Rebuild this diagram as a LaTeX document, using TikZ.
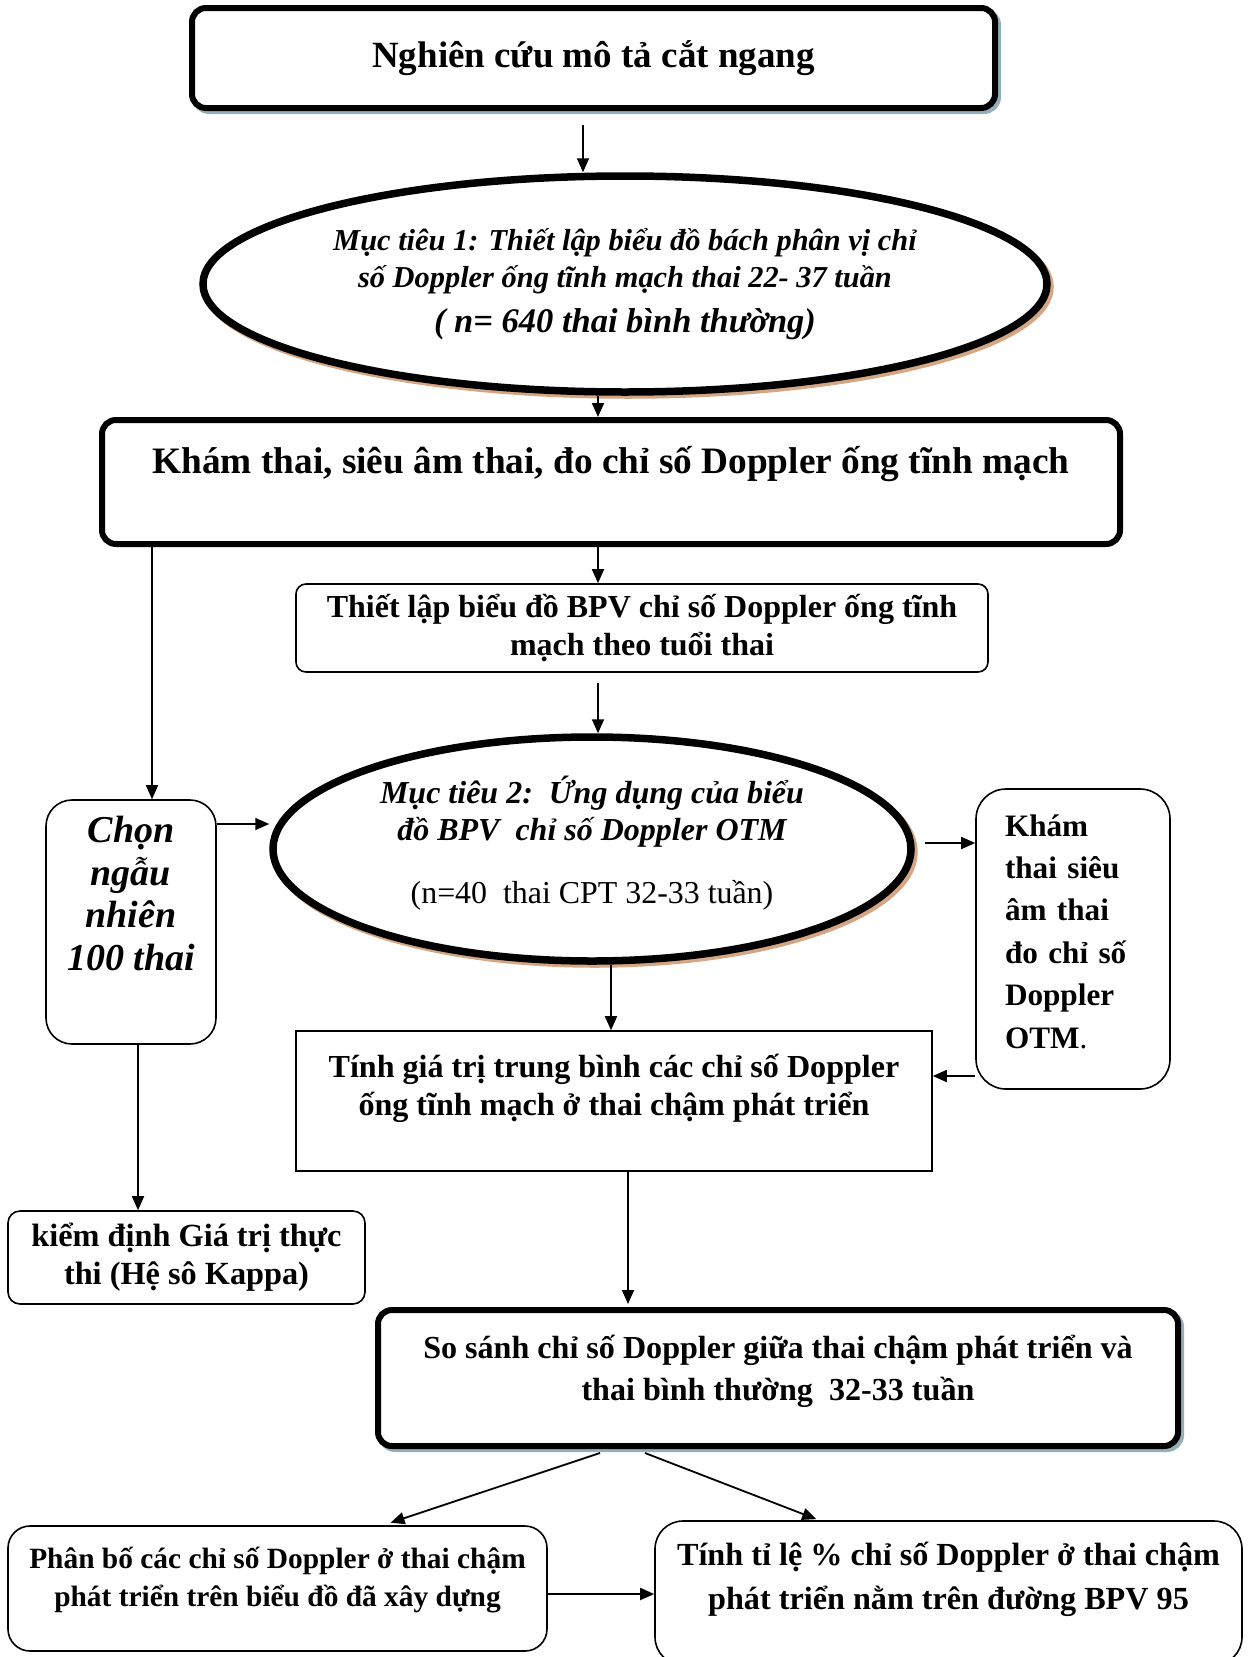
\documentclass[tikz,border=0pt]{standalone}
\usepackage{fontspec}
\setmainfont{Liberation Serif}
\usetikzlibrary{shapes.geometric,arrows.meta,calc}
\definecolor{sblue}{HTML}{94AFBA}
\definecolor{stan}{HTML}{D4A684}
\tikzset{
  base/.style={draw, fill=white, inner sep=0pt, align=center, font=\bfseries},
  thinbox/.style={base, line width=1.6pt, rounded corners=12pt},
  thickbox/.style={base, line width=6pt, rounded corners=14pt},
  blueshadow/.style={preaction={draw=sblue, line width=6pt, transform canvas={xshift=3pt,yshift=-3pt}}},
  oval/.style={base, ellipse, line width=7.5pt, font=\bfseries\itshape,
     preaction={draw=stan, line width=7.5pt, transform canvas={xshift=3pt,yshift=-3pt}}},
  arr/.style={line width=1.8pt, -{Triangle[length=14pt,width=12pt]}},
}
\begin{document}
\begin{tikzpicture}[x=1pt,y=-1pt]
\useasboundingbox (0,0) rectangle (1248,1657);
% nodes
\node[thickbox, blueshadow, minimum width=803pt, minimum height=100pt, font=\bfseries\fontsize{37}{40}\selectfont] (n1) at (593.5,58) {Nghiên cứu mô tả cắt ngang};
\node[oval, minimum width=844pt, minimum height=216pt, font=\bfseries\itshape\fontsize{30.4}{37}\selectfont] (e1) at (625,284)
  {Mục tiêu 1: Thiết lập biểu đồ bách phân vị chỉ\\ số Doppler ống tĩnh mạch thai 22- 37 tuần\\[8pt] {\fontsize{34.5}{37}\selectfont ( n= 640 thai bình thường)}};
\node[thickbox, minimum width=1018pt, minimum height=124pt, text height=24pt, text depth=42pt, font=\bfseries\fontsize{37.3}{40}\selectfont] (n2) at (611,482)
  {Khám thai, siêu âm thai, đo chỉ số Doppler ống tĩnh mạch};
\node[thinbox, rounded corners=10pt, minimum width=692pt, minimum height=88pt, font=\bfseries\fontsize{32}{38}\selectfont] (n3) at (642,628)
  {Thiết lập biểu đồ BPV chỉ số Doppler ống tĩnh\\ mạch theo tuổi thai};
\node[oval, minimum width=638pt, minimum height=224pt, font=\bfseries\itshape\fontsize{32}{37}\selectfont] (e2) at (592,849)
  {Mục tiêu 2:\ \ Ứng dụng của biểu\\ đồ BPV\ \ chỉ số Doppler OTM\\[26pt] {\normalfont\fontsize{31.9}{37}\selectfont (n=40\ \ thai CPT 32-33 tuần)\rule[-18pt]{0pt}{0pt}}};
\node[thinbox, rounded corners=26pt, minimum width=170pt, minimum height=244pt, text height=106pt, text depth=10pt, font=\bfseries\itshape\fontsize{38}{42.5}\selectfont] (chon) at (131,922)
  {Chọn\\ ngẫu\\ nhiên\\ 100 thai};
\node[thinbox, rounded corners=30pt, minimum width=194pt, minimum height=300pt, text width=136pt, text height=10pt, text depth=216pt, align=left, font=\bfseries\fontsize{31.2}{42.4}\selectfont] (kham) at (1073,939)
  {Khám\\ thai siêu\\ âm thai\\ đo chỉ số\\ Doppler\\ OTM{\mdseries .}};
\node[base, line width=1.6pt, minimum width=636pt, minimum height=140pt, text height=39pt, text depth=10pt, font=\bfseries\fontsize{32.1}{38}\selectfont] (tinh) at (614,1101)
  {Tính giá trị trung bình các chỉ số Doppler\\ ống tĩnh mạch ở thai chậm phát triển};
\node[thinbox, rounded corners=12pt, minimum width=357pt, minimum height=93pt, font=\bfseries\fontsize{32.3}{38}\selectfont] (kiem) at (186.5,1257.5)
  {kiểm định Giá trị thực\\ thi (Hệ sô Kappa)};
\node[thickbox, blueshadow, minimum width=800pt, minimum height=136pt, text height=55pt, text depth=10pt, font=\bfseries\fontsize{32.1}{42}\selectfont] (ss) at (778,1378)
  {So sánh chỉ số Doppler giữa thai chậm phát triển và\\ thai bình thường\ \ 32-33 tuần};
\node[thinbox, rounded corners=22pt, minimum width=539pt, minimum height=125pt, text height=45pt, text depth=10pt, font=\bfseries\fontsize{29.4}{38}\selectfont] (pb) at (277.5,1588.5)
  {Phân bố các chỉ số Doppler ở thai chậm\\ phát triển trên biểu đồ đã xây dựng};
\node[thinbox, rounded corners=28pt, minimum width=587pt, minimum height=144pt, text height=43pt, text depth=10pt, font=\bfseries\fontsize{32.2}{44.4}\selectfont] (tl) at (948.5,1593)
  {Tính tỉ lệ \% chỉ số Doppler ở thai chậm\\ phát triển nằm trên đường BPV 95};
% connectors
\draw[arr] ([yshift=-14pt]n1.south -| 583,0) -- (e1.north -| 583,0);
\draw[arr] (e1.south -| 598,0) -- (n2.north -| 598,0);
\draw[arr] (n2.south -| 598,0) -- (n3.north -| 598,0);
\draw[arr, shorten <=10pt] (n3.south -| 598,0) -- (e2.north -| 598,0);
\draw[arr] (n2.south -| 152,0) -- (chon.north -| 152,0);
\draw[arr] (chon.east |- 0,824) -- (275,824 -| e2.west);
\draw[arr, shorten <=10pt] (e2.east |- 0,843) -- (kham.west |- 0,843);
\draw[arr] (kham.west |- 0,1076) -- (tinh.east |- 0,1076);
\draw[arr] (e2.south -| 611,0) -- (tinh.north -| 611,0);
\draw[arr] (chon.south -| 138,0) -- (kiem.north -| 138,0);
\draw[arr] (tinh.south -| 628,0) -- ([yshift=3pt]ss.north -| 628,0);
\draw[arr, shorten >=8pt] ([yshift=-4pt]ss.south -| 600,0) -- (pb.north -| 383,0);
\draw[arr, shorten >=3pt] ([yshift=-4pt]ss.south -| 645,0) -- (tl.north -| 819,0);
\draw[arr] (pb.east |- 0,1594) -- (tl.west |- 0,1594);
\end{tikzpicture}
\end{document}
